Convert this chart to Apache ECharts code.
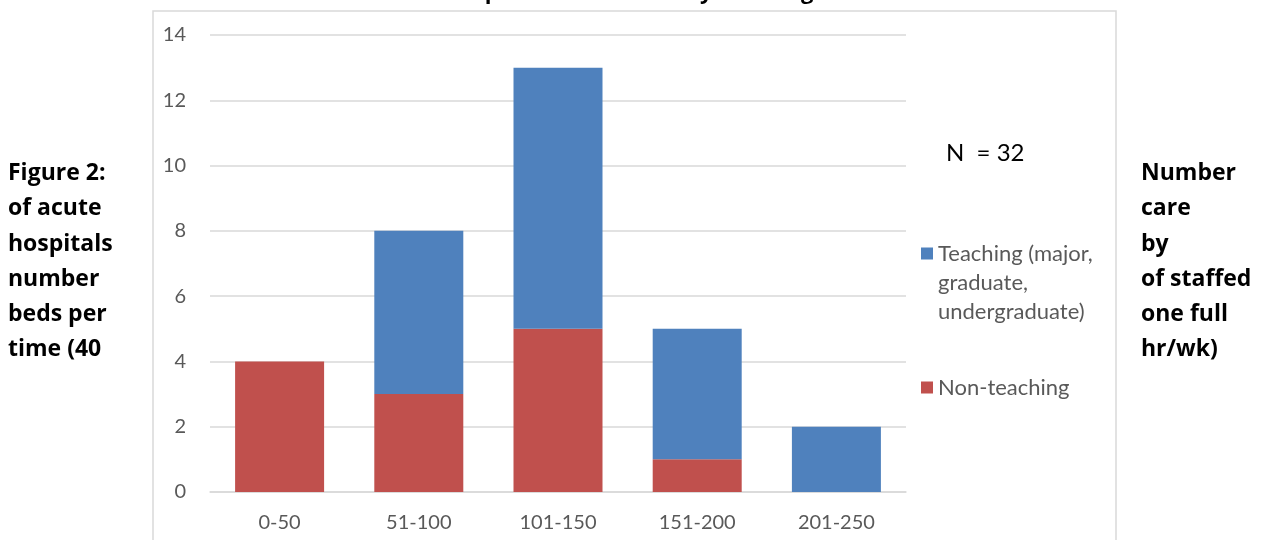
<!DOCTYPE html>
<html>
<head>
<meta charset="utf-8">
<script src="https://cdn.jsdelivr.net/npm/echarts@6/dist/echarts.min.js"></script>
<style>
  html, body { margin: 0; padding: 0; background: #fff; }
  #chart { width: 1262px; height: 540px; }
</style>
</head>
<body>
<div id="chart"></div>
<script>
// bed-size groups on the x axis
const categories = ['0-50', '51-100', '101-150', '151-200', '201-250']
// hospitals per group
const nonTeaching = [4, 3, 5, 1, 0]
const teaching = [0, 5, 8, 4, 2]

const teachingName = 'Teaching (major,\ngraduate,\nundergraduate)'
const nonTeachingName = 'Non-teaching'

const leftLines = ['Figure 2:', 'of acute', 'hospitals', 'number', 'beds per', 'time (40']
const rightLines = ['Number', 'care', 'by', 'of staffed', 'one full', 'hr/wk)']

const font = 'Lato, "Open Sans", sans-serif'
const boldFont = '"Open Sans", Lato, sans-serif'

const chart = echarts.init(document.getElementById('chart'))

const sideText = (x, lines) => ({
  type: 'text',
  left: x,
  top: 156,
  style: {
    text: lines.join('\n'),
    font: 'bold 23px ' + boldFont,
    lineHeight: 35.2,
    fill: '#000'
  }
})

const legendBase = {
  orient: 'vertical',
  left: 921,
  padding: 0,
  icon: 'rect',
  itemWidth: 12,
  itemHeight: 12,
  itemGap: 0,
  selectedMode: false,
  textStyle: { color: '#595959', fontSize: 22, lineHeight: 29 }
}

const option = {
  animation: false,
  textStyle: { fontFamily: font },
  graphic: [
    {
      type: 'rect',
      shape: { x: 153, y: 11, width: 963, height: 540 },
      style: { fill: 'none', stroke: '#d9d9d9', lineWidth: 1.5 },
      silent: true
    },
    {
      type: 'text',
      x: 634,
      y: -7,
      style: {
        text: 'Infection preventionist and by teaching status',
        font: 'bold 22px ' + boldFont,
        fill: '#000',
        align: 'center',
        verticalAlign: 'middle'
      }
    },
    {
      type: 'text',
      left: 946,
      top: 141,
      style: { text: 'N  = 32', font: '24px ' + font, fill: '#000' }
    },
    sideText(8, leftLines),
    sideText(1141, rightLines)
  ],
  legend: [
    Object.assign({}, legendBase, {
      top: 181,
      data: [teachingName],
      // two blank lines on top keep the swatch level with the first line
      formatter: name => '\n\n' + name
    }),
    Object.assign({}, legendBase, {
      top: 373,
      data: [nonTeachingName]
    })
  ],
  grid: { left: 210, right: 356, top: 35, bottom: 48 },
  xAxis: {
    type: 'category',
    data: categories,
    axisLine: { show: true, lineStyle: { color: '#d9d9d9', width: 1.5 } },
    axisTick: { show: false },
    axisLabel: { color: '#595959', fontSize: 20, margin: 21 }
  },
  yAxis: {
    type: 'value',
    min: 0,
    max: 14,
    interval: 2,
    axisLine: { show: false },
    axisTick: { show: false },
    axisLabel: { color: '#595959', fontSize: 20, margin: 24 },
    splitLine: { lineStyle: { color: '#d9d9d9', width: 1.5 } }
  },
  series: [
    {
      name: nonTeachingName,
      type: 'bar',
      stack: 'total',
      barWidth: 89,
      data: nonTeaching,
      itemStyle: { color: '#C0504D' }
    },
    {
      name: teachingName,
      type: 'bar',
      stack: 'total',
      barWidth: 89,
      data: teaching,
      itemStyle: { color: '#4F81BD' }
    }
  ]
}

chart.setOption(option)
</script>
</body>
</html>
